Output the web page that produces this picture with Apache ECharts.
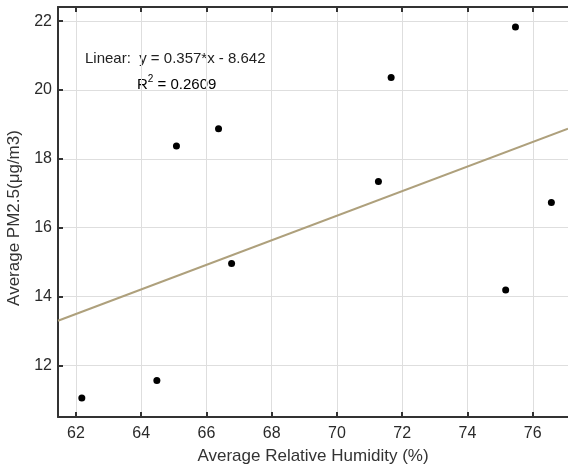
<!DOCTYPE html>
<html>
<head>
<meta charset="utf-8">
<script src="https://cdn.jsdelivr.net/npm/echarts@6/dist/echarts.min.js"></script>
<style>
html,body{margin:0;padding:0;background:#fff;}
#c{width:568px;height:468px;}
</style>
</head>
<body>
<div id="c"></div>
<script>
// Data
var humidity = [62.18, 64.48, 65.08, 66.37, 66.77, 71.27, 71.66, 75.17, 75.47, 76.57];
var pm25     = [11.05, 11.56, 18.37, 18.87, 14.96, 17.34, 20.36, 14.19, 21.83, 16.73];
var fitSlope = 0.357;
var fitIntercept = -8.642;
var fitR2 = 0.2609;
var xTicks = [62, 64, 66, 68, 70, 72, 74, 76];
var yTicks = [12, 14, 16, 18, 20, 22];
var xRange = [61.45, 77.08];
var yRange = [10.5, 22.41];

var points = humidity.map(function (x, i) { return [x, pm25[i]]; });
var fitLine = xRange.map(function (x) { return [x, fitSlope * x + fitIntercept]; });

var chart = echarts.init(document.getElementById('c'), null, {renderer: 'canvas'});
var font = 'Liberation Sans, Arial, sans-serif';
var axisCol = '#333';
chart.setOption({
  animation: false,
  backgroundColor: '#fff',
  grid: {left: 58, top: 7, right: 0, bottom: 51, containLabel: false, outerBoundsMode: 'none'},
  xAxis: [{
    type: 'value', position: 'bottom', min: xRange[0], max: xRange[1],
    name: 'Average Relative Humidity (%)', nameLocation: 'middle', nameGap: 31,
    nameTextStyle: {fontFamily: font, fontSize: 17, color: '#333'},
    axisLine: {show: true, onZero: false, lineStyle: {color: axisCol, width: 2}},
    axisTick: {show: true, inside: true, length: 5, customValues: xTicks, lineStyle: {color: axisCol, width: 2}},
    axisLabel: {customValues: xTicks, fontFamily: font, fontSize: 16, color: '#2a2a2a', margin: 9},
    splitLine: {show: true, lineStyle: {color: '#dedede', width: 1}}
  }, {
    type: 'value', position: 'top', min: xRange[0], max: xRange[1],
    axisLine: {show: true, onZero: false, lineStyle: {color: axisCol, width: 2}},
    axisTick: {show: true, inside: true, length: 5, customValues: xTicks, lineStyle: {color: axisCol, width: 2}},
    axisLabel: {show: false},
    splitLine: {show: false}
  }],
  yAxis: [{
    type: 'value', min: yRange[0], max: yRange[1],
    name: 'Average PM2.5(μg/m3)', nameLocation: 'middle', nameGap: 35,
    nameTextStyle: {fontFamily: font, fontSize: 17, color: '#333', padding: [0, 12, 0, 0]},
    axisLine: {show: true, onZero: false, lineStyle: {color: axisCol, width: 2}},
    axisTick: {show: true, inside: true, length: 5, customValues: yTicks, lineStyle: {color: axisCol, width: 2}},
    axisLabel: {customValues: yTicks, fontFamily: font, fontSize: 16, color: '#2a2a2a', margin: 6},
    splitLine: {show: true, lineStyle: {color: '#dedede', width: 1}}
  }],
  series: [{
    type: 'line', data: fitLine, showSymbol: false, symbol: 'none',
    lineStyle: {color: '#aea07c', width: 2}, z: 2, silent: true
  }, {
    type: 'scatter', data: points, symbol: 'circle', symbolSize: 7,
    itemStyle: {color: '#000', opacity: 1}, z: 3
  }],
  graphic: [{
    type: 'text', left: 85, top: 51,
    style: {text: 'Linear:  y = ' + fitSlope + '*x - ' + Math.abs(fitIntercept), font: '15px ' + font, fill: '#222'}
  }, {
    type: 'text', left: 137, top: 74,
    style: {
      text: '{a|R}{s|2}{a| = ' + fitR2 + '}',
      rich: {
        a: {fontFamily: font, fontSize: 15, color: '#222', verticalAlign: 'bottom'},
        s: {fontFamily: font, fontSize: 10, color: '#222', verticalAlign: 'top', padding: [0, 0, 8, 0]}
      }
    }
  }]
});
</script>
</body>
</html>
